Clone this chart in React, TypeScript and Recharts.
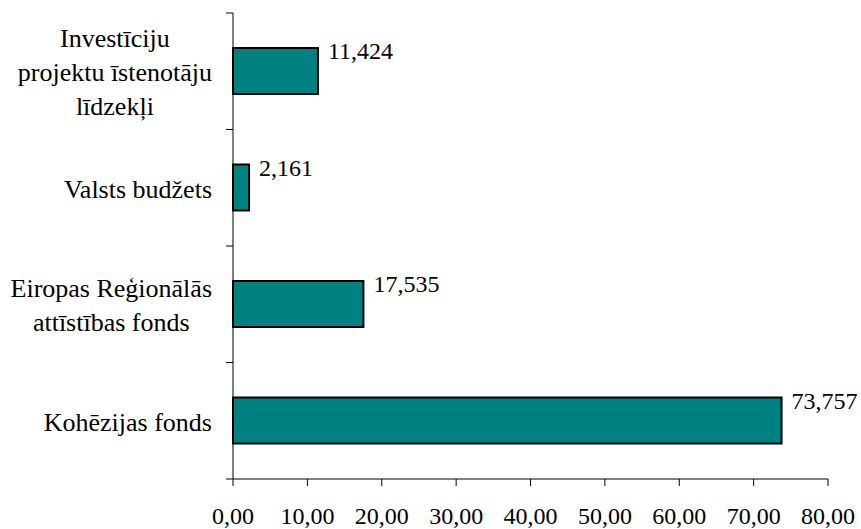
import React from "react";
import {Bar, BarChart, LabelList, XAxis, YAxis} from "recharts";

// kategorijas (no augšas uz leju) un vērtības
const categories = [
   ["Investīciju", "projektu īstenotāju", "līdzekļi"],
   ["Valsts budžets"],
   ["Eiropas Reģionālās", "attīstības fonds"],
   ["Kohēzijas fonds"],
];
const values = [11.424, 2.161, 17.535, 73.757];
const xTicks = [0, 10, 20, 30, 40, 50, 60, 70, 80];

const data = categories.map((lines, i) => ({name: lines.join(" "), lines, value: values[i]}));

const FONT = "Liberation Serif, Times New Roman, serif";
const CAT_SIZE = 26;
const NUM_SIZE = 24;
const AXIS_X = 233;
const TOP = 13;
const BOTTOM = 479;
const BAND = (BOTTOM - TOP) / categories.length;

const measure = (() => {
   const ctx = document.createElement("canvas").getContext("2d");
   return (t: string) => {
      if (!ctx) return t.length * CAT_SIZE * 0.42;
      ctx.font = `${CAT_SIZE}px "Liberation Serif", serif`;
      return ctx.measureText(t).width;
   };
})();

const comma = (v: number, d: number) => v.toFixed(d).replace(".", ",");
const catStyle = {fontFamily: FONT, fontSize: CAT_SIZE};
const numStyle = {fontFamily: FONT, fontSize: NUM_SIZE};

const CategoryTick = (props: any) => {
   const {y, index, payload} = props;
   const lines: string[] = categories[index] ?? [String(payload.value)];
   const maxW = Math.max(...lines.map(measure));
   const cx = AXIS_X - 21 - maxW / 2;
   const lh = 34;
   return (
      <g>
         <line x1={AXIS_X - 7} x2={AXIS_X} y1={y - BAND / 2} y2={y - BAND / 2} stroke="#000"/>
         {index === categories.length - 1 && (
            <line x1={AXIS_X - 7} x2={AXIS_X} y1={y + BAND / 2} y2={y + BAND / 2} stroke="#000"/>
         )}
         {lines.map((l, i) => (
            <text key={i} x={cx} y={y + (i - (lines.length - 1) / 2) * lh + 10}
                  textAnchor="middle" style={catStyle} fill="#000">
               {l}
            </text>
         ))}
      </g>
   );
};

const ValueLabel = (props: any) => {
   const {x, y, width, value} = props;
   return (
      <text x={x + width + 10} y={y + 11} style={numStyle} fill="#000">
         {comma(value, 3)}
      </text>
   );
};

export default function App() {
   return (
      <div style={{position: "absolute", left: 0, top: 0, width: 861, height: 529, background: "#fff"}}>
         <BarChart
            width={861}
            height={529}
            data={data}
            layout="vertical"
            margin={{top: TOP, right: 33, left: 0, bottom: 0}}
         >
            <XAxis
               type="number"
               domain={[0, 80]}
               ticks={xTicks}
               interval={0}
               height={50}
               stroke="#000"
               tickSize={7}
               tickMargin={21}
               tick={{fill: "#000", style: numStyle}}
               tickFormatter={(v: number) => comma(v, 2)}
            />
            <YAxis
               type="category"
               dataKey="name"
               width={AXIS_X}
               stroke="#000"
               tickLine={false}
               interval={0}
               tick={<CategoryTick/>}
            />
            <Bar dataKey="value" fill="#008080" stroke="#000" strokeWidth={2} barSize={46}
                 isAnimationActive={false}>
               <LabelList dataKey="value" content={<ValueLabel/>}/>
            </Bar>
         </BarChart>
      </div>
   );
}
